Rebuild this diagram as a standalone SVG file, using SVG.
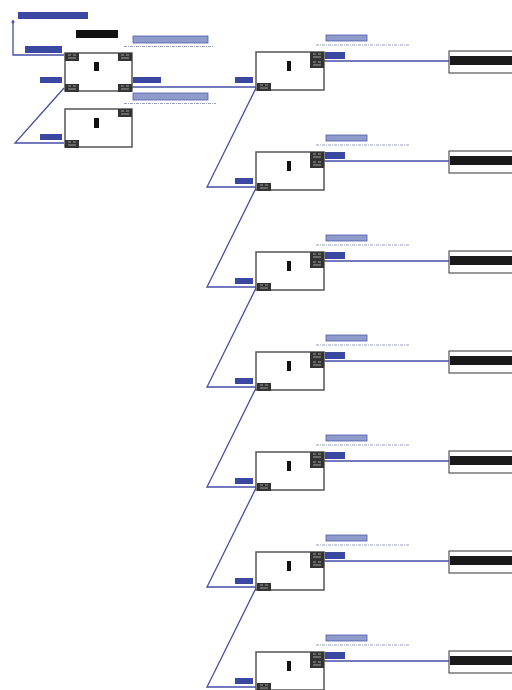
<svg xmlns="http://www.w3.org/2000/svg" width="512" height="690" viewBox="0 0 512 690">
<style>
.box{fill:#fff;stroke:#555;stroke-width:1.5}
.corner{fill:#333}
.cl{stroke:#bbb;stroke-width:0.8}
.mark{fill:#111}
.blue{fill:#3b48a2}
.lblue{fill:#8e9bcb;stroke:#4f5cae;stroke-width:0.8}
.cap{stroke:#9aa0b8;stroke-width:1.2;stroke-dasharray:3 1 1 1;fill:none}
.wire{stroke:#444ea6;stroke-width:1.3;fill:none}
.term{fill:#fff;stroke:#555;stroke-width:1.2}
.band{fill:#1a1a1a}
</style>
<rect width="512" height="690" fill="#fff"/>
<defs>
<g id="cornerSq"><rect class="corner" x="0" y="0" width="14" height="8"/><path class="cl" d="M3 2h3M8 2h3M3 5h8"/></g>
<g id="termShape"><rect class="term" x="0" y="-1" width="70" height="22"/><rect class="band" x="1" y="4" width="69" height="9"/></g>
</defs>
<g id="connectors">
<path class="wire" d="M13 20V55H64"/>
<path class="wire" d="M64 88L15 143H64"/>
<path class="wire" d="M132 87H256"/>
<path class="wire" d="M324 61H449M324 161H449M324 261H449M324 361H449M324 461H449M324 561H449M324 661H449"/>
<path class="wire" d="M256 88L207 187H256M256 188L207 287H256M256 288L207 387H256M256 388L207 487H256M256 488L207 587H256M256 588L207 687H256"/>
</g>
<g id="header">
<rect class="blue" x="18" y="12" width="70" height="7"/>
<rect class="mark" x="76" y="30" width="42" height="8"/>
<rect class="blue" x="25" y="46" width="37" height="7"/>
<circle cx="13" cy="22" r="1.5" fill="#4b56aa"/>
</g>
<g id="node-a">
<rect class="box" x="65" y="53" width="67" height="38"/>
<use href="#cornerSq" x="65" y="53"/><use href="#cornerSq" x="118" y="53"/>
<use href="#cornerSq" x="65" y="84"/><use href="#cornerSq" x="118" y="84"/>
<rect class="mark" x="94" y="62" width="5" height="9"/>
<rect class="blue" x="40" y="77" width="22" height="6"/>
<rect class="blue" x="133" y="77" width="28" height="6"/>
<rect class="lblue" x="133" y="36" width="75" height="7"/>
<path class="cap" d="M124 46.5H213"/>
<rect class="lblue" x="133" y="93" width="75" height="7"/>
<path class="cap" d="M124 103.5H216"/>
</g>
<g id="node-b">
<rect class="box" x="65" y="109" width="67" height="38"/>
<use href="#cornerSq" x="118" y="109"/><use href="#cornerSq" x="65" y="140"/>
<rect class="mark" x="94" y="118" width="5" height="10"/>
<rect class="blue" x="40" y="134" width="22" height="6"/>
</g>
<g id="node-c0" transform="translate(0,0)">
<rect class="box" x="256" y="52" width="68" height="38"/>
<use href="#cornerSq" x="310" y="52"/><use href="#cornerSq" x="310" y="60"/><use href="#cornerSq" x="257" y="83"/>
<rect class="mark" x="287" y="61" width="4" height="10"/>
<rect class="blue" x="325" y="52" width="20" height="7"/>
<rect class="lblue" x="326" y="35" width="41" height="6"/>
<path class="cap" d="M316 45H410"/>
<rect class="blue" x="235" y="77" width="18" height="6"/>
<use href="#termShape" x="449" y="52"/>
</g>
<g id="node-c1" transform="translate(0,100)">
<rect class="box" x="256" y="52" width="68" height="38"/>
<use href="#cornerSq" x="310" y="52"/><use href="#cornerSq" x="310" y="60"/><use href="#cornerSq" x="257" y="83"/>
<rect class="mark" x="287" y="61" width="4" height="10"/>
<rect class="blue" x="325" y="52" width="20" height="7"/>
<rect class="lblue" x="326" y="35" width="41" height="6"/>
<path class="cap" d="M316 45H410"/>
<rect class="blue" x="235" y="78" width="18" height="6"/>
<use href="#termShape" x="449" y="52"/>
</g>
<g id="node-c2" transform="translate(0,200)">
<rect class="box" x="256" y="52" width="68" height="38"/>
<use href="#cornerSq" x="310" y="52"/><use href="#cornerSq" x="310" y="60"/><use href="#cornerSq" x="257" y="83"/>
<rect class="mark" x="287" y="61" width="4" height="10"/>
<rect class="blue" x="325" y="52" width="20" height="7"/>
<rect class="lblue" x="326" y="35" width="41" height="6"/>
<path class="cap" d="M316 45H410"/>
<rect class="blue" x="235" y="78" width="18" height="6"/>
<use href="#termShape" x="449" y="52"/>
</g>
<g id="node-c3" transform="translate(0,300)">
<rect class="box" x="256" y="52" width="68" height="38"/>
<use href="#cornerSq" x="310" y="52"/><use href="#cornerSq" x="310" y="60"/><use href="#cornerSq" x="257" y="83"/>
<rect class="mark" x="287" y="61" width="4" height="10"/>
<rect class="blue" x="325" y="52" width="20" height="7"/>
<rect class="lblue" x="326" y="35" width="41" height="6"/>
<path class="cap" d="M316 45H410"/>
<rect class="blue" x="235" y="78" width="18" height="6"/>
<use href="#termShape" x="449" y="52"/>
</g>
<g id="node-c4" transform="translate(0,400)">
<rect class="box" x="256" y="52" width="68" height="38"/>
<use href="#cornerSq" x="310" y="52"/><use href="#cornerSq" x="310" y="60"/><use href="#cornerSq" x="257" y="83"/>
<rect class="mark" x="287" y="61" width="4" height="10"/>
<rect class="blue" x="325" y="52" width="20" height="7"/>
<rect class="lblue" x="326" y="35" width="41" height="6"/>
<path class="cap" d="M316 45H410"/>
<rect class="blue" x="235" y="78" width="18" height="6"/>
<use href="#termShape" x="449" y="52"/>
</g>
<g id="node-c5" transform="translate(0,500)">
<rect class="box" x="256" y="52" width="68" height="38"/>
<use href="#cornerSq" x="310" y="52"/><use href="#cornerSq" x="310" y="60"/><use href="#cornerSq" x="257" y="83"/>
<rect class="mark" x="287" y="61" width="4" height="10"/>
<rect class="blue" x="325" y="52" width="20" height="7"/>
<rect class="lblue" x="326" y="35" width="41" height="6"/>
<path class="cap" d="M316 45H410"/>
<rect class="blue" x="235" y="78" width="18" height="6"/>
<use href="#termShape" x="449" y="52"/>
</g>
<g id="node-c6" transform="translate(0,600)">
<rect class="box" x="256" y="52" width="68" height="38"/>
<use href="#cornerSq" x="310" y="52"/><use href="#cornerSq" x="310" y="60"/><use href="#cornerSq" x="257" y="83"/>
<rect class="mark" x="287" y="61" width="4" height="10"/>
<rect class="blue" x="325" y="52" width="20" height="7"/>
<rect class="lblue" x="326" y="35" width="41" height="6"/>
<path class="cap" d="M316 45H410"/>
<rect class="blue" x="235" y="78" width="18" height="6"/>
<use href="#termShape" x="449" y="52"/>
</g>
</svg>
